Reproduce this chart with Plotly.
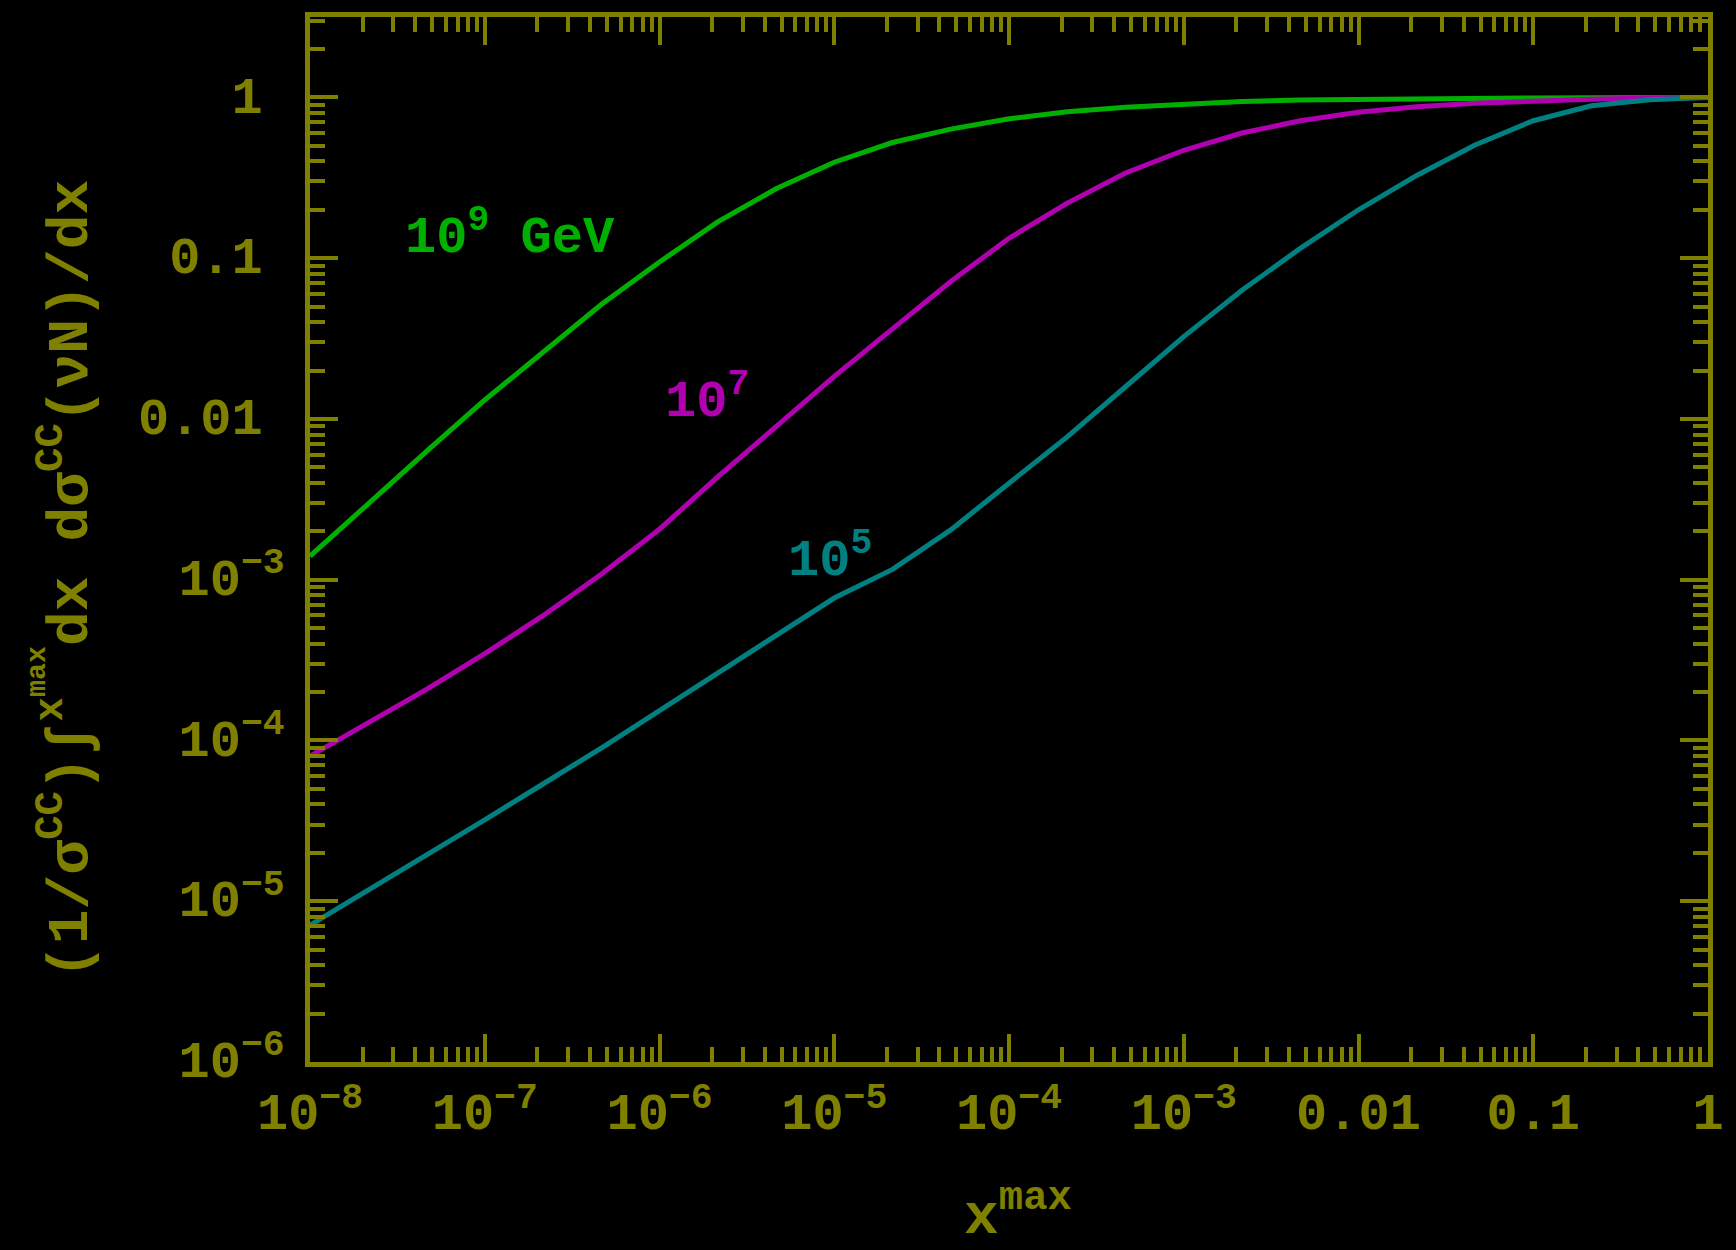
import plotly.graph_objects as go

# ---------------- data ----------------
x_max = [1e-8, 2.154e-8, 4.642e-8, 1e-7, 2.154e-7, 4.642e-7, 1e-6, 2.154e-6, 4.642e-6,
         1e-5, 2.154e-5, 4.642e-5, 1e-4, 2.154e-4, 4.642e-4, 1e-3, 2.154e-3, 4.642e-3,
         1e-2, 2.154e-2, 4.642e-2, 0.1, 0.2154, 0.4642, 1.0]

frac_1e9 = [1.40e-3, 3.00e-3, 6.28e-3, 1.312e-2, 2.62e-2, 5.15e-2, 9.46e-2, 0.168, 0.270,
            0.395, 0.524, 0.635, 0.736, 0.813, 0.867, 0.908, 0.942, 0.964,
            0.975, 0.984, 0.989, 0.993, 0.995, 0.998, 1.0]

frac_1e7 = [8.0e-5, 1.29e-4, 2.08e-4, 3.47e-4, 5.97e-4, 1.081e-3, 2.06e-3, 4.36e-3, 8.97e-3,
            1.84e-2, 3.63e-2, 7.16e-2, 0.133, 0.220, 0.339, 0.469, 0.600, 0.716,
            0.809, 0.875, 0.920, 0.953, 0.975, 0.991, 1.0]

frac_1e5 = [7.10e-6, 1.167e-5, 1.93e-5, 3.21e-5, 5.36e-5, 8.97e-5, 1.535e-4, 2.64e-4, 4.54e-4,
            7.69e-4, 1.159e-3, 2.04e-3, 3.98e-3, 7.73e-3, 1.585e-2, 3.25e-2, 6.31e-2, 0.115,
            0.200, 0.327, 0.506, 0.716, 0.887, 0.968, 1.0]

x_tickvals = [1e-8, 1e-7, 1e-6, 1e-5, 1e-4, 1e-3, 1e-2, 1e-1, 1]
x_ticktext = ["10<sup>−8</sup>", "10<sup>−7</sup>", "10<sup>−6</sup>", "10<sup>−5</sup>",
              "10<sup>−4</sup>", "10<sup>−3</sup>", "0.01", "0.1", "1"]
y_tickvals = [1e-6, 1e-5, 1e-4, 1e-3, 1e-2, 1e-1, 1]
y_ticktext = ["10<sup>−6</sup>", "10<sup>−5</sup>", "10<sup>−4</sup>", "10<sup>−3</sup>",
              "0.01<sup>\u00a0</sup>", "0.1<sup>\u00a0</sup>", "1<sup>\u00a0</sup>"]

curve_labels = ["10<sup>9</sup> GeV", "10<sup>7</sup>", "10<sup>5</sup>"]

# ---------------- style ----------------
OLIVE = "#808000"
GREEN = "#00b000"
MAGENTA = "#b000b0"
TEAL = "#008080"
FONT = "Liberation Mono"
FS = 52
FS_TITLE = 58

fig = go.Figure()
for ys, col in [(frac_1e9, GREEN), (frac_1e7, MAGENTA), (frac_1e5, TEAL)]:
    fig.add_trace(go.Scatter(x=x_max, y=ys, mode="lines",
                             line=dict(color=col, width=5), showlegend=False))

x_minor = [m * 10.0 ** e for e in range(-8, 0) for m in range(2, 10)]
y_minor = [m * 10.0 ** e for e in range(-6, 1) for m in range(2, 10)]

axis_common = dict(
    type="log", showgrid=False, zeroline=False,
    showline=True, linecolor=OLIVE, linewidth=5, mirror="ticks",
    ticks="inside", ticklen=28, tickwidth=4, tickcolor=OLIVE,
    tickfont=dict(family=FONT, size=FS, color=OLIVE, weight="bold"),
)

fig.update_xaxes(**axis_common, range=[-8, 0], tickmode="array",
                 tickvals=x_tickvals, ticktext=x_ticktext, ticklabelstandoff=0,
                 minor=dict(ticks="inside", ticklen=15, tickwidth=4, tickcolor=OLIVE,
                            tickmode="array", tickvals=x_minor, showgrid=False))
fig.update_yaxes(**axis_common, range=[-6, 0.5], tickmode="array",
                 tickvals=y_tickvals, ticktext=y_ticktext, ticklabelstandoff=10,
                 ticklabelshift=-3,
                 minor=dict(ticks="inside", ticklen=15, tickwidth=4, tickcolor=OLIVE,
                            tickmode="array", tickvals=y_minor, showgrid=False))

L, R, T, B = 310, 13, 14, 188
W, H = 1736, 1250
pw, ph = W - L - R, H - T - B

def px(X):
    return (X - L) / pw

def py(Y):
    return (H - B - Y) / ph

ann_font = lambda c, s=FS: dict(family=FONT, size=s, color=c, weight="bold")
annotations = [
    dict(x=px(404), y=py(268), xref="paper", yref="paper", xanchor="left", yanchor="bottom",
         text=curve_labels[0], showarrow=False, font=ann_font(GREEN)),
    dict(x=px(667), y=py(432), xref="paper", yref="paper", xanchor="left", yanchor="bottom",
         text=curve_labels[1], showarrow=False, font=ann_font(MAGENTA)),
    dict(x=px(791), y=py(592), xref="paper", yref="paper", xanchor="left", yanchor="bottom",
         text=curve_labels[2], showarrow=False, font=ann_font(TEAL)),
    dict(x=px(1026), y=py(1250), xref="paper", yref="paper", xanchor="center", yanchor="bottom",
         yshift=-3,
         text="x<sup>max</sup>", showarrow=False, font=ann_font(OLIVE, FS_TITLE)),
    dict(x=px(60), y=py(578), xref="paper", yref="paper", xanchor="center", yanchor="middle",
         textangle=-90,
         text="(1/σ<sup>CC</sup>)∫<sup>x<sup>max</sup></sup>dx dσ<sup>CC</sup>(νN)/dx",
         showarrow=False, font=ann_font(OLIVE, FS_TITLE)),
]

fig.update_layout(
    width=W, height=H,
    margin=dict(l=L, r=R, t=T, b=B, pad=0),
    paper_bgcolor="black", plot_bgcolor="black",
    font=dict(family=FONT, size=FS, color=OLIVE),
    annotations=annotations,
)

fig.write_html("out.html", config={"displayModeBar": False},
               post_script="document.body.style.margin='0';document.body.style.padding='0';"
                           "document.body.style.background='black';")
